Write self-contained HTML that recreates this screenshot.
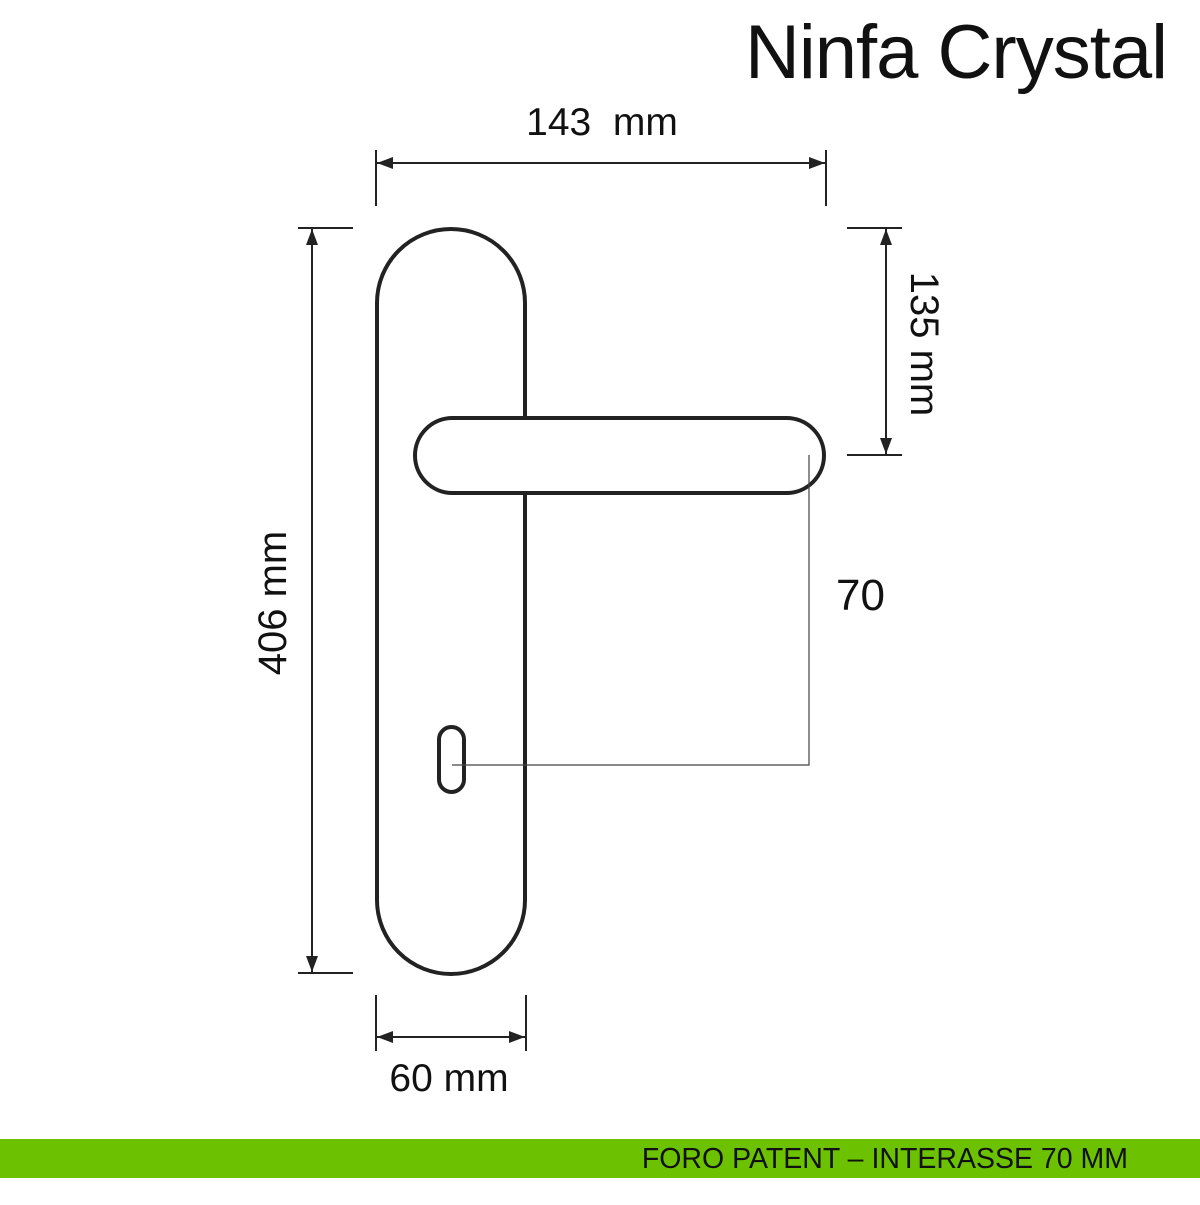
<!DOCTYPE html>
<html><head><style>
html,body{margin:0;padding:0;background:#fff;}
</style></head><body>
<svg width="1200" height="1200" xmlns="http://www.w3.org/2000/svg" font-family="Liberation Sans, sans-serif">
<rect width="1200" height="1200" fill="#fff"/>
<text x="1167" y="78" text-anchor="end" font-size="76" fill="#111" letter-spacing="-1">Ninfa Crystal</text>
<defs>
<marker id="a" viewBox="0 0 16 12" refX="16" refY="6" markerWidth="16" markerHeight="12" markerUnits="userSpaceOnUse" orient="auto-start-reverse" preserveAspectRatio="none"><path d="M0,0 L16,6 L0,12 z" fill="#222"/></marker>
</defs>
<g stroke="#222" stroke-width="2" fill="none">
<line x1="376" y1="150" x2="376" y2="206"/>
<line x1="826" y1="150" x2="826" y2="206"/>
<line x1="377" y1="163" x2="825" y2="163" marker-start="url(#a)" marker-end="url(#a)"/>
<line x1="298" y1="228" x2="353" y2="228"/>
<line x1="298" y1="973" x2="353" y2="973"/>
<line x1="312" y1="229" x2="312" y2="972" marker-start="url(#a)" marker-end="url(#a)"/>
<line x1="847" y1="228" x2="902" y2="228"/>
<line x1="847" y1="455" x2="902" y2="455"/>
<line x1="886" y1="229" x2="886" y2="454" marker-start="url(#a)" marker-end="url(#a)"/>
<line x1="376" y1="995" x2="376" y2="1051"/>
<line x1="526" y1="995" x2="526" y2="1051"/>
<line x1="377" y1="1037" x2="525" y2="1037" marker-start="url(#a)" marker-end="url(#a)"/>
</g>
<g stroke="#222" stroke-width="4" fill="#fff">
<rect x="377" y="229" width="148" height="745" rx="74" ry="74"/>
<rect x="415" y="418" width="409" height="75" rx="37.5" ry="37.5"/>
<rect x="439" y="727" width="25" height="65" rx="12.5" ry="12.5"/>
</g>
<polyline points="452,765 809,765 809,455" stroke="#444" stroke-width="1.2" fill="none"/>
<text x="602" y="135" text-anchor="middle" font-size="39" fill="#111" xml:space="preserve">143  mm</text>
<text x="0" y="0" transform="translate(286,603) rotate(-90)" text-anchor="middle" font-size="40" fill="#111">406 mm</text>
<text x="0" y="0" transform="translate(911,344) rotate(90)" text-anchor="middle" font-size="40" fill="#111">135 mm</text>
<text x="836" y="610" font-size="44" fill="#111">70</text>
<text x="449" y="1091" text-anchor="middle" font-size="39" fill="#111">60 mm</text>
<rect x="0" y="1139" width="1200" height="39" fill="#6cc200"/>
<text x="1128" y="1168" text-anchor="end" font-size="28.5" fill="#111">FORO PATENT – INTERASSE 70 MM</text>
</svg>
</body></html>
